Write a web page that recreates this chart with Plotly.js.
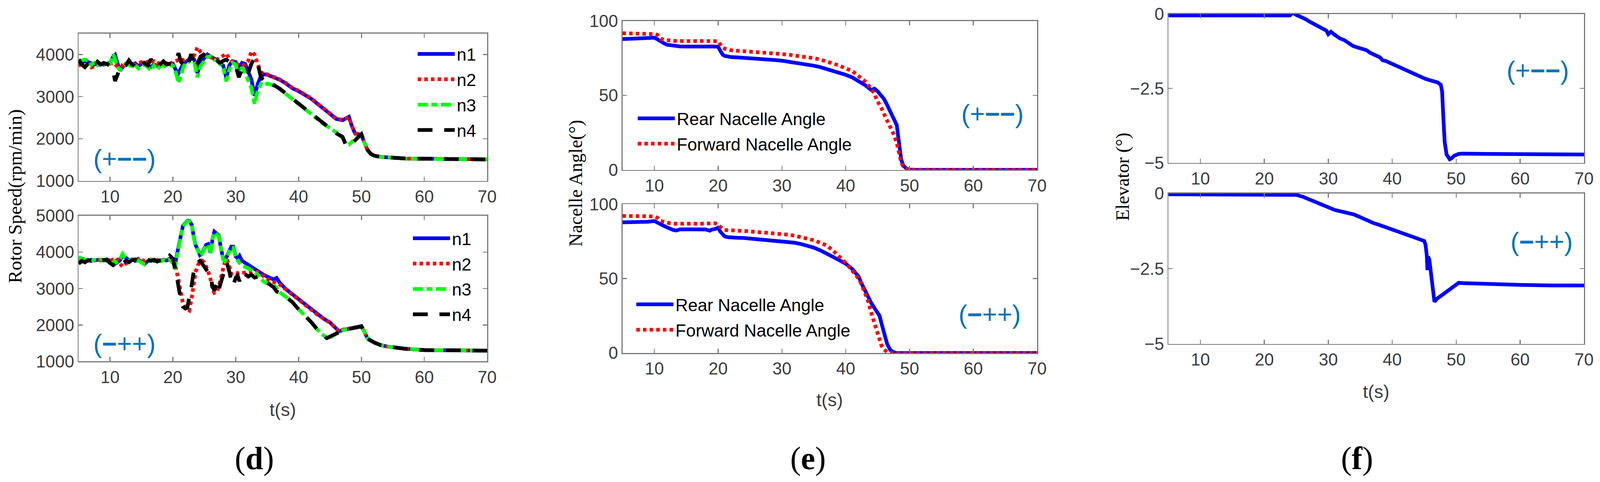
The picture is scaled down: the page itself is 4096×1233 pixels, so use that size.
<!DOCTYPE html>
<html><head><meta charset="utf-8">
<script src="https://cdn.plot.ly/plotly-3.0.1.min.js"></script>
<style>html,body{margin:0;padding:0;background:#fff;overflow:hidden}#chart{width:4096px;height:1233px}</style>
</head><body><div id="chart"></div>
<script>
// ---------------- DATA ----------------
const xTicks = [10, 20, 30, 40, 50, 60, 70];
const rotorTicksTop = [1000, 2000, 3000, 4000];
const rotorTicksBot = [1000, 2000, 3000, 4000, 5000];
const nacelleTicks = [0, 50, 100];
const elevTicks = [-5, -2.5, 0];
const rotorNames = ['n1', 'n2', 'n3', 'n4'];
const nacelleNames = ['Rear Nacelle Angle', 'Forward Nacelle Angle'];

// (d) upper panel, case (+−−)
const tD1 = [5,5.5,6,6.5,7,7.5,8,8.5,9,9.5,10,
  10.5,10.8,11.2,11.6,
  12,12.5,13,13.5,14,14.5,15,15.5,16,16.5,17,17.5,18,18.5,19,19.5,20,
  20.5,20.9,21.3,21.7,22.1,22.5,22.9,23.4,23.9,24.4,24.9,
  25.5,26,26.5,27,27.5,28,28.5,29,29.5,30,30.5,31,31.5,32,32.5,33,33.5,34,34.5,35,
  36,37,38,39,40,41,42,43,44,45,46,47,
  47.5,48,48.5,49,49.5,50,50.5,51,51.5,52,
  53,54,55,57,60,63,66,70];
const n1Top = [3760,3790,3850,3820,3790,3760,3800,3790,3760,3780,3800,
  3950,3990,3780,3620,
  3700,3780,3810,3760,3790,3720,3780,3800,3740,3700,3760,3730,3780,3760,3790,3770,3780,
  3620,3560,3700,3790,3830,3870,3950,3880,3560,3780,3900,
  4000,3950,3920,3870,3780,3740,3450,3750,3840,3820,3640,3800,3780,3600,3400,3020,3300,3480,3530,3520,
  3460,3400,3310,3200,3130,3040,2950,2830,2710,2590,2470,2440,
  2480,2520,2290,2120,2110,2090,1900,1720,1640,1600,
  1570,1555,1545,1530,1525,1520,1515,1510];
const n2Top = [3740,3760,3780,3720,3690,3720,3760,3740,3770,3800,3780,
  3800,3760,3720,3760,
  3730,3760,3780,3790,3760,3800,3820,3790,3830,3800,3840,3780,3810,3790,3800,3780,3820,
  3850,3880,3900,3860,3900,3880,3920,3980,4170,4060,3990,
  3960,3930,3900,3880,3920,3960,4020,3900,3820,3780,3760,3730,3760,3850,4070,4000,3780,3580,3540,3530,
  3470,3410,3320,3210,3140,3050,2960,2840,2720,2600,2480,2450,
  2490,2510,2300,2130,2110,2090,1900,1720,1640,1600,
  1570,1555,1545,1530,1525,1520,1515,1510];
const n3Top = [3800,3860,3880,3860,3760,3800,3740,3780,3790,3760,3780,
  4000,3900,3700,3640,
  3720,3780,3740,3720,3760,3670,3740,3760,3700,3620,3740,3640,3720,3740,3700,3740,3740,
  3560,3320,3550,3720,3800,3820,3900,3820,3460,3720,3820,
  3940,3960,3880,3850,3760,3700,3360,3650,3800,3760,3480,3700,3560,3380,3200,2820,3150,3300,3260,3310,
  3270,3180,3060,2940,2820,2700,2590,2470,2350,2250,2140,2050,
  1880,1860,1930,1980,2050,2100,1900,1720,1640,1600,
  1570,1555,1545,1530,1525,1520,1515,1510];
const n4Top = [3880,3760,3700,3780,3820,3740,3830,3760,3800,3760,3740,
  3600,3370,3520,3700,
  3680,3740,3860,3760,3720,3800,3870,3780,3740,3890,3760,3700,3780,3840,3760,3780,3760,
  3880,4030,3820,3760,3880,3800,4010,3680,3780,3950,4000,
  3940,3900,3870,3860,3800,3850,3880,3820,3760,3720,3460,3650,3700,3560,3780,3920,3780,3460,3380,3400,
  3280,3190,3070,2950,2830,2710,2590,2470,2350,2240,2130,2040,
  1860,1820,1900,1960,2040,2110,1900,1730,1640,1600,
  1570,1555,1545,1530,1525,1520,1515,1510];

// (d) lower panel, case (−++)
const tD2 = [5,5.5,6,6.5,7,7.5,8,8.5,9,9.5,10,10.5,11,11.5,12,12.5,13,13.5,14,14.5,15,15.5,16,16.5,17,17.5,18,18.5,19,19.5,20,
  20.3,20.6,21,21.3,21.6,22,22.3,22.6,23,23.3,23.6,24,24.3,24.6,25,25.3,25.6,26,26.3,26.6,27,27.3,27.6,28,28.3,28.6,29,29.3,29.6,30,30.3,30.6,
  31,31.5,32,32.5,33,33.5,34,34.5,35,35.5,36,36.5,
  37,38,39,40,41,42,43,44,44.5,45,46,46.5,47,48,49,50,50.5,51,52,53,54,55,57,60,63,66,70];
const n1Bot = [3850,3820,3800,3760,3790,3770,3790,3780,3770,3800,3780,3740,3700,3760,3900,3850,3770,3800,3760,3790,3740,3680,3750,3790,3760,3780,3760,3790,3770,3800,3740,
  3600,3900,4260,4550,4720,4800,4860,4860,4750,4450,4200,4050,3920,3960,4080,4200,4220,3980,4350,4560,4500,4460,4150,3820,3780,3900,4050,4150,4150,3880,3830,3900,
  3760,3700,3650,3600,3540,3480,3400,3370,3330,3280,3250,3290,
  3160,2980,2840,2700,2560,2420,2280,2170,2120,2070,1900,1830,1860,1900,1930,1970,1800,1620,1520,1450,1410,1380,1345,1310,1300,1295,1295];
const n2Bot = [3760,3740,3780,3790,3760,3780,3800,3770,3790,3780,3760,3800,3840,3700,3600,3680,3760,3800,3780,3820,3800,3760,3800,3780,3760,3790,3770,3780,3790,3800,3820,
  3700,3500,3150,2850,2600,2470,2420,2400,2750,3150,3450,3650,3740,3770,3720,3600,3480,3250,3000,2880,2900,3050,3300,3550,3750,3800,3600,3400,3420,3440,3420,3440,
  3430,3440,3430,3440,3460,3450,3390,3300,3250,3210,3180,3150,
  3110,2970,2840,2700,2560,2420,2280,2170,2110,2060,1890,1830,1870,1900,1930,1960,1800,1620,1520,1450,1410,1380,1345,1310,1300,1295,1295];
const n3Bot = [3880,3800,3780,3810,3760,3790,3770,3800,3780,3760,3790,3760,3720,3780,3950,3820,3760,3790,3740,3770,3720,3660,3740,3800,3740,3770,3750,3780,3760,3790,3700,
  3540,3850,4240,4530,4700,4790,4850,4850,4740,4430,4180,4030,3900,3940,4060,4180,4200,3950,4330,4540,4480,4440,4120,3800,3750,3880,4030,4130,4120,3850,3780,3700,
  3640,3600,3560,3520,3460,3380,3280,3180,3150,3140,3100,3020,
  2900,2770,2630,2430,2260,2080,1870,1700,1630,1660,1760,1800,1850,1890,1930,1960,1800,1620,1520,1450,1410,1380,1345,1310,1300,1295,1295];
const n4Bot = [3680,3760,3720,3780,3760,3800,3770,3760,3790,3780,3700,3640,3700,3620,3680,3760,3720,3780,3800,3760,3790,3840,3780,3760,3790,3740,3780,3800,3760,3900,3820,
  3600,3350,2950,2650,2500,2450,2480,2700,3100,3450,3650,3720,3760,3700,3600,3520,3450,3350,3050,2950,3150,2950,3150,3400,3600,3700,3450,3200,3080,3300,3350,3200,
  3450,3400,3330,3380,3300,3320,3290,3220,3160,3100,3040,2920,
  2880,2770,2630,2430,2260,2080,1870,1700,1640,1680,1760,1800,1850,1890,1930,1960,1800,1620,1520,1450,1410,1380,1345,1310,1300,1295,1295];

// (e) upper panel, case (+−−)
const tE1 = [5,6,7,8,9,10,10.5,11,11.5,12,13,14,15,16,17,18,19,20,20.3,20.7,21,21.5,
  22,23,24,25,26,27,28,29,30,31,32,33,34,35,36,37,38,39,40,41,42,43,44,
  44.5,45,45.5,46,46.5,47,47.5,48,48.3,48.7,49,49.5,50,51,55,60,65,70];
const rearTop = [87.8,87.9,88,88.2,88.4,88.7,87.6,86.1,85,84,83.2,82.9,82.8,83,82.9,82.8,82.9,82.7,80.2,77.4,76.6,75.9,
  75.7,75.5,75.3,75.1,74.8,74.4,74.1,73.7,73.3,72.7,72,71.4,70.7,69.9,69,67.8,66.4,65.1,63.8,62.1,59.6,57,53.6,
  54.5,52.7,50.2,47.6,43.5,38.5,34,30,20,7,3,0.9,0.2,0,0,0,0,0];
const fwdTop = [91.7,91.6,91.5,91.6,91.4,91.2,90.6,88,87.4,87,86.6,86.5,86.6,86.5,86.6,86.4,86.5,86.3,84,82,81.4,80.8,
  80.3,80,79.7,79.5,79.3,78.8,78.4,78.2,78,77.4,76.7,76.3,75.8,75,74.1,72.9,71.5,70,68.1,66.4,63,59.6,54.4,
  51,45.8,42.4,37.5,33,29.6,24,18,11,5,2.5,0.8,0.1,0,0,0,0,0];

// (e) lower panel, case (−++)
const tE2 = [5,6,7,8,9,10,10.5,11,11.5,12,12.5,13,13.5,14,15,16,17,18,18.7,19,19.5,20,20.3,20.7,21,21.5,
  22,23,24,25,26,27,28,29,30,31,32,33,34,35,36,37,38,39,40,41,42,
  42.5,43,43.5,44,44.5,45,45.3,45.6,46,46.5,47,47.5,48,50,55,60,65,70];
const rearBot = [87.8,87.8,87.9,88,88.2,88.7,87.8,86.5,85.4,84.4,83.4,82.6,82.3,83.1,83.1,83,83.1,83,82.2,82.9,83.3,84.2,81.8,79.5,78.4,77.8,
  77.5,77.4,77.3,76.9,76.6,76.4,76.2,75.8,75.3,74.7,74.1,73.2,72.3,70.8,69,67,64.6,62.3,60,56.5,51.5,
  46.5,41.8,37.2,33.6,30.2,27,25,20,13,6,2,0.5,0,0,0,0,0,0];
const fwdBot = [92.1,92.2,92,92.1,91.9,91.7,90.8,88.7,88,87.4,87.1,86.9,86.8,86.9,86.8,86.9,86.8,86.9,86.7,86.9,87.2,86.1,84.6,83.4,82.6,82.4,
  82.2,82.1,82,81.7,81.4,81.2,80.9,80.5,80.1,79.5,78.8,78,77.1,75.8,74.1,72.3,68.9,65,60.5,55.5,50,
  46,41,35,27,20,12,8,5,2.5,0.5,0,0,0,0,0,0,0,0];

// (f) upper panel, case (+−−)
const tF1 = [5,10,15,20,24,24.45,25,25.5,26,26.5,27,27.6,28.5,29.2,29.7,30,30.4,31,31.8,
  32.5,33,33.9,34.5,35,36,36.5,37,37.6,38.1,38.5,39,39.6,
  40.3,41,41.7,42.4,43,43.7,44.5,45.2,45.8,46.6,47.1,47.6,
  47.8,48,48.2,48.5,48.8,49,49.3,49.7,50.4,51,55,60,65,70];
const elevTop = [-0.05,-0.05,-0.05,-0.05,-0.05,0.05,-0.04,-0.08,-0.12,-0.18,-0.25,-0.32,-0.42,-0.5,-0.56,-0.68,-0.6,-0.7,-0.82,
  -0.88,-0.95,-1.08,-1.12,-1.15,-1.22,-1.3,-1.36,-1.4,-1.46,-1.56,-1.58,-1.64,
  -1.71,-1.77,-1.84,-1.92,-1.98,-2.06,-2.13,-2.18,-2.22,-2.26,-2.3,-2.38,
  -2.6,-3.5,-4.3,-4.72,-4.85,-4.88,-4.84,-4.76,-4.7,-4.69,-4.7,-4.71,-4.72,-4.72];

// (f) lower panel, case (−++)
const tF2 = [5,10,15,20,24,25,26,27,28,29,30,31,32,33,34,35,36,37,38,39,40,41,42,43,44,45,
  45.2,45.4,45.5,45.6,45.8,46,46.3,46.6,47,48,49,50,50.4,51,55,60,65,70];
const elevBot = [-0.03,-0.03,-0.03,-0.03,-0.03,-0.05,-0.11,-0.2,-0.28,-0.38,-0.46,-0.55,-0.6,-0.64,-0.7,-0.79,-0.9,-0.98,-1.05,-1.13,-1.2,-1.28,-1.36,-1.43,-1.5,-1.58,
  -1.7,-2.05,-2.55,-2.1,-2.2,-2.6,-3.2,-3.6,-3.5,-3.35,-3.18,-3.04,-2.97,-2.98,-3.02,-3.04,-3.06,-3.06];

// ---------------- STYLE / LAYOUT ----------------
const W = 4096, H = 1233;
const px = v => v / W;
const py = v => 1 - v / H;
const SANS = '"Liberation Sans", Arial, sans-serif';
const SERIF = '"Liberation Serif", "Times New Roman", serif';
const LW = 9.5;
const seriesStyle = {
  n1: {color: '#0000FF', dash: 'solid'},
  n2: {color: '#FF0000', dash: '9px,8px'},
  n3: {color: '#00FF00', dash: '26px,9px,15px,9px'},
  n4: {color: '#000000', dash: '38px,30px'}
};

function tr(x, y, name, xa, ya, st, legend, group, show) {
  return {type: 'scatter', mode: 'lines', x: x, y: y, name: name, xaxis: xa, yaxis: ya,
    line: {color: st.color, width: LW, dash: st.dash}, legend: legend, legendgroup: group,
    showlegend: show, hoverinfo: 'skip'};
}

const dTopSeries = [n1Top, n2Top, n3Top, n4Top];
const dBotSeries = [n1Bot, n2Bot, n3Bot, n4Bot];
const traces = [];
rotorNames.forEach((nm, i) => traces.push(tr(tD1, dTopSeries[i], nm, 'x', 'y', seriesStyle[nm], 'legend', 'a' + nm, true)));
rotorNames.forEach((nm, i) => traces.push(tr(tD2, dBotSeries[i], nm, 'x2', 'y2', seriesStyle[nm], 'legend2', 'b' + nm, true)));
traces.push(tr(tE1, rearTop, nacelleNames[0], 'x3', 'y3', seriesStyle.n1, 'legend3', 'c1', true));
traces.push(tr(tE1, fwdTop, nacelleNames[1], 'x3', 'y3', seriesStyle.n2, 'legend3', 'c2', true));
traces.push(tr(tE2, rearBot, nacelleNames[0], 'x4', 'y4', seriesStyle.n1, 'legend4', 'd1', true));
traces.push(tr(tE2, fwdBot, nacelleNames[1], 'x4', 'y4', seriesStyle.n2, 'legend4', 'd2', true));
traces.push(tr(tF1, elevTop, 'Elevator (+−−)', 'x5', 'y5', seriesStyle.n1, 'legend', 'e1', false));
traces.push(tr(tF2, elevBot, 'Elevator (−++)', 'x6', 'y6', seriesStyle.n1, 'legend', 'e2', false));

const axisBase = {showline: true, linecolor: '#7a7a7a', linewidth: 2.5, mirror: 'ticks', ticks: 'inside',
  ticklen: 11, tickwidth: 2.5, tickcolor: '#7a7a7a', showgrid: false, zeroline: false, fixedrange: true,
  tickfont: {family: SANS, size: 44, color: '#3c3c3c'}};
function xa(dom, anchor) { return Object.assign({}, axisBase, {domain: dom, anchor: anchor, range: [5, 70], tickvals: xTicks, ticklabelstandoff: 0}); }
function ya(dom, anchor, range, tv) { return Object.assign({}, axisBase, {domain: dom, anchor: anchor, range: range, tickvals: tv}); }

const dX = [px(201.2), px(1247.1)];
const eX = [px(1593.5), px(2655.0)];
const fX = [px(2991.2), px(4055.2)];

function legendCfg(x, y) {
  return {x: x, y: y, xanchor: 'left', yanchor: 'top', bgcolor: 'rgba(0,0,0,0)', borderwidth: 0,
    font: {family: SANS, size: 44.5, color: '#000'}, itemwidth: 95, traceorder: 'grouped', tracegroupgap: 4,
    itemclick: false, itemdoubleclick: false};
}

function ann(text, x, y, size, family, color, angle) {
  return {text: text, xref: 'paper', yref: 'paper', x: px(x), y: py(y), xanchor: 'center', yanchor: 'middle',
    showarrow: false, textangle: angle || 0, font: {family: family, size: size, color: color}};
}
const CASE = '#0072BD';
const casePlus = '(+<b>−−</b>)';
const caseMinus = '(<b>−</b>++)';

const layout = {
  width: W, height: H, margin: {l: 0, r: 0, t: 0, b: 0},
  paper_bgcolor: '#fff', plot_bgcolor: '#fff', showlegend: true,
  xaxis: xa(dX, 'y'), yaxis: ya([py(462.7), py(85.5)], 'x', [1000, 4500], rotorTicksTop),
  xaxis2: xa(dX, 'y2'), yaxis2: ya([py(924.4), py(551.8)], 'x2', [1000, 5000], rotorTicksBot),
  xaxis3: xa(eX, 'y3'), yaxis3: ya([py(434.5), py(53.5)], 'x3', [0, 100], nacelleTicks),
  xaxis4: xa(eX, 'y4'), yaxis4: ya([py(903), py(522.3)], 'x4', [0, 100], nacelleTicks),
  xaxis5: xa(fX, 'y5'), yaxis5: ya([py(416.6), py(35.6)], 'x5', [-5, 0], elevTicks),
  xaxis6: xa(fX, 'y6'), yaxis6: ya([py(879.7), py(494.7)], 'x6', [-5, 0], elevTicks),
  legend: legendCfg(px(1064.2), py(102.5)),
  legend2: legendCfg(px(1052), py(574)),
  legend3: legendCfg(px(1627.6), py(267.2)),
  legend4: legendCfg(px(1624), py(743.1)),
  annotations: [
    ann('Rotor Speed(rpm/min)', 38.9, 501.6, 49, SERIF, '#000', -90),
    ann('Nacelle Angle(°)', 1473.5, 469.5, 48, SERIF, '#000', -90),
    ann('Elevator (°)', 2874, 452, 48, SERIF, '#000', -90),
    ann('t(s)', 724.1, 1047, 47, SANS, '#3c3c3c'),
    ann('t(s)', 2123.8, 1022.5, 47, SANS, '#3c3c3c'),
    ann('t(s)', 3522.5, 1001.7, 47, SANS, '#3c3c3c'),
    ann('(<b>d</b>)', 650.8, 1172.9, 82, SERIF, '#000'),
    ann('(<b>e</b>)', 2068.1, 1172.9, 82, SERIF, '#000'),
    ann('(<b>f</b>)', 3473.9, 1172.9, 82, SERIF, '#000'),
    ann(casePlus, 318.8, 405.8, 66, SANS, CASE),
    ann(caseMinus, 318.8, 878.7, 66, SANS, CASE),
    ann(casePlus, 2540.8, 290.8, 66, SANS, CASE),
    ann(caseMinus, 2534, 803.7, 66, SANS, CASE),
    ann(casePlus, 3936.6, 180.1, 66, SANS, CASE),
    ann(caseMinus, 3947.3, 618, 66, SANS, CASE)
  ]
};

Plotly.newPlot('chart', traces, layout, {staticPlot: true, displayModeBar: false});
</script></body></html>
